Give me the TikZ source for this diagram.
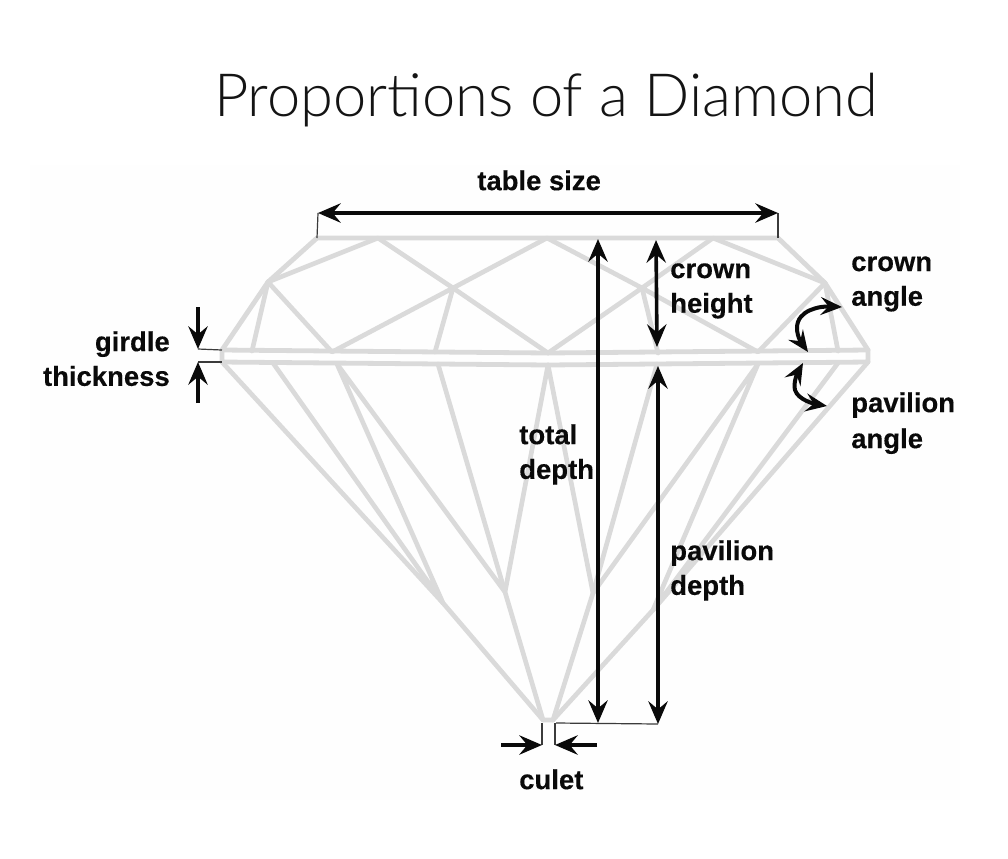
\documentclass[tikz,border=0pt]{standalone}
\usepackage{fontspec}
\setmainfont{Liberation Sans}
\newfontfamily\titlefont{Lato Light}
\newfontfamily\labfont{Liberation Sans Bold}[FakeBold=0.3]
\usetikzlibrary{arrows.meta}
\definecolor{gem}{HTML}{DADADA}
\definecolor{panel}{HTML}{FEFEFE}
\definecolor{ink}{HTML}{0A0A0A}
\tikzset{
  x=0.75pt,y=-0.75pt,
  facet/.style={draw=gem,line width=3.6pt,line cap=round,line join=round},
  facetthin/.style={draw=gem,line width=3.5pt,line cap=round,line join=round},
  tip/.tip={Stealth[length=17pt,width=14.5pt,inset=6pt]},
  smalltip/.tip={Stealth[length=16pt,width=13.5pt,inset=6pt]},
  dim/.style={draw=ink,line width=2.7pt,tip-tip},
  dimend/.style={draw=ink,line width=3pt,-tip},
  dimcurve/.style={draw=ink,line width=3pt,smalltip-smalltip},
  tick/.style={draw=ink!80,line width=0.9pt},
  lab/.style={font=\labfont\fontsize{20.6}{26}\selectfont,text=ink,align=left,anchor=north west,inner sep=0pt},
}
\begin{document}
\begin{tikzpicture}
\useasboundingbox (0,0) rectangle (1008,858);
\fill[white] (0,0) rectangle (1008,858);
\fill[panel] (30,165) rectangle (960,800);
\node[font=\titlefont\fontsize{44.7}{52}\selectfont,text=black!92,anchor=center,inner sep=0pt] (title) at (546,100) {Proportions of a Diamond};
% crown vertices
\foreach \n/\x/\y in {tl/317/238,t1/378/238,tc/547/238,t3/713/238,tr/778/238,
  a/268/282,b/453/288,c/642/288,d/825/283,
  gl/222/350,g1/252/351,g2/332/352,g3/435/352,g4/548/353,g5/658/353,g6/758/352,g7/838/351,gr/868/350,
  hl/222/362,h1/273/363,h2/337/364,h3/438/364,h4/548/365,h5/657/364,h6/758/364,h7/838/363,hr/868/362,
  p1/443/603,p2/505/592,p3/593/593,p4/653/610,cl/543/720,cr/553/720}
  {\coordinate (\n) at (\x,\y);}
% crown facets
\draw[facet] (gl) -- (a) -- (tl) -- (tr) -- (d) -- (gr) -- (hr) -- (h4) -- (hl) -- (gl);
\draw[facet] (gl) -- (g4) -- (gr);
\draw[facetthin] (a) -- (t1) -- (b) -- (g4);
\draw[facetthin] (a) -- (g1);
\draw[facetthin] (a) -- (g2) -- (b) -- (tc) -- (c) -- (g6) -- (d) -- (t3) -- (c) -- (g4);
\draw[facetthin] (b) -- (g3);
\draw[facetthin] (c) -- (g5);
\draw[facetthin] (d) -- (g7);
% pavilion facets
\draw[facetthin] (hl) -- (p1) -- (cl) -- (cr) -- (p4) -- (hr);
\draw[facetthin] (h1) -- (p1) -- (h2) -- (p2) -- (h3);
\draw[facetthin] (h4) -- (p2) -- (cl);
\draw[facetthin] (h4) -- (p3) -- (cr);
\draw[facetthin] (h5) -- (p3) -- (h6) -- (p4) -- (h7);
% dimension helpers
\coordinate (tsl) at (318,213); \coordinate (tsr) at (778,213);
\coordinate (tdt) at (598,239); \coordinate (tdb) at (598,723);
\coordinate (cht) at (656,240); \coordinate (chb) at (657,347);
\coordinate (pdt) at (658,366); \coordinate (pdb) at (658,724);
\coordinate (culL) at (542,745); \coordinate (culR) at (555,745);
\coordinate (culLs) at (501,745); \coordinate (culRs) at (597,745);
\coordinate (gtt) at (198,307); \coordinate (gtb) at (198,349);
\coordinate (gbt) at (198,362); \coordinate (gbb) at (198,403);
\coordinate (caA) at (842,307); \coordinate (caB) at (808,352);
\coordinate (paA) at (803,363); \coordinate (paB) at (827,406);
\draw[tick] (tsl) -- (tl);
\draw[tick] (tsr) -- (tr);
\draw[tick] (556,723) -- (pdb);
\draw[tick] (culL) -- (542,723);
\draw[tick] (culR) -- (555,723);
\draw[tick] (gtb) -- (gl);
\draw[tick] (gbt) -- (hl);
\draw[dim] (tsl) -- (tsr);
\draw[dim] (tdt) -- (tdb);
\draw[dim] (cht) -- (chb);
\draw[dim] (pdt) -- (pdb);
\draw[dimend] (culLs) -- (culL);
\draw[dimend] (culRs) -- (culR);
\draw[dimend] (gtt) -- (gtb);
\draw[dimend] (gbb) -- (gbt);
\draw[dimcurve] (caA) .. controls (820,306) and (797,310) .. (797,328) .. controls (797,338) and (803,345) .. (caB);
\draw[dimcurve] (paA) .. controls (798,372) and (793,382) .. (795,390) .. controls (798,400) and (815,404) .. (paB);
% labels
\node[lab] (ltable) at (477,170) {table size};
\node[lab,text width=100pt] (lcrown) at (670,263) {crown\\height};
\node[lab,text width=100pt] (lcangle) at (851,256) {crown\\angle};
\node[lab,text width=100pt] (lpangle) at (851,392) {pavilion\\[1pt]angle};
\node[lab,text width=100pt] (ltotal) at (519,424) {total\\depth};
\node[lab,text width=100pt] (lpav) at (670,540) {pavilion\\depth};
\node[lab,align=right,anchor=north east] (lgirdle) at (170,331) {girdle\\thickness};
\node[lab] (lculet) at (519,769) {culet};
\end{tikzpicture}
\end{document}
